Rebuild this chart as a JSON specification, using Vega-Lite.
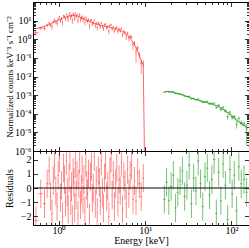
{
"$schema":"https://vega.github.io/schema/vega-lite/v6.json",
"padding":{"left":3,"top":1,"right":2,"bottom":0},
"spacing":0,
"bounds":"flush",
"config":{"view":{"stroke":"#000","strokeWidth":1},"axis":{"domain":false,"grid":false,"labelFont":"Liberation Serif","titleFont":"Liberation Serif","labelFontSize":10,"titleFontSize":10,"titleFontWeight":"normal","tickColor":"#000","labelColor":"#000","titleColor":"#000","tickWidth":0.8,"labelFlush":false,"labelOverlap":false,"labelBound":false}},
"datasets":{
"xrt":[
{"e":0.54,"ex":0.04,"m":3.6,"r":-2.3,"f":2.28,"fs":0.58},
{"e":0.615,"ex":0.035,"m":4.3,"r":-0.4,"f":3.96,"fs":0.86},
{"e":0.68,"ex":0.03,"m":5.0,"r":-1.1,"f":3.9,"fs":1.0},
{"e":0.73,"ex":0.02,"m":5.5,"r":0.3,"f":5.83,"fs":1.1},
{"e":0.77,"ex":0.02,"m":6.0,"r":1.2,"f":7.44,"fs":1.2},
{"e":0.80,"ex":0.015,"m":6.6,"r":-0.6,"f":5.81,"fs":1.32},
{"e":0.83,"ex":0.015,"m":7.3,"r":-1.8,"f":4.67,"fs":1.46},
{"e":0.86,"ex":0.015,"m":7.9,"r":0.5,"f":8.69,"fs":1.58},
{"e":0.89,"ex":0.015,"m":8.5,"r":1.6,"f":11.2,"fs":1.7},
{"e":0.92,"ex":0.015,"m":9.1,"r":-0.2,"f":8.74,"fs":1.82},
{"e":0.95,"ex":0.015,"m":9.7,"r":-1.3,"f":7.18,"fs":1.94},
{"e":0.98,"ex":0.015,"m":10.4,"r":0.9,"f":12.3,"fs":2.08},
{"e":1.01,"ex":0.015,"m":11.1,"r":2.1,"f":15.8,"fs":2.22},
{"e":1.04,"ex":0.015,"m":11.8,"r":-0.7,"f":10.1,"fs":2.36},
{"e":1.07,"ex":0.015,"m":12.5,"r":0.2,"f":13.0,"fs":2.5},
{"e":1.10,"ex":0.015,"m":13.2,"r":-2.0,"f":7.92,"fs":2.64},
{"e":1.13,"ex":0.015,"m":13.9,"r":1.4,"f":17.8,"fs":2.78},
{"e":1.16,"ex":0.015,"m":14.6,"r":0.6,"f":16.4,"fs":2.92},
{"e":1.19,"ex":0.015,"m":15.2,"r":-1.0,"f":12.2,"fs":3.04},
{"e":1.22,"ex":0.015,"m":15.8,"r":1.9,"f":21.8,"fs":3.16},
{"e":1.25,"ex":0.015,"m":16.4,"r":-0.3,"f":15.4,"fs":3.28},
{"e":1.28,"ex":0.015,"m":16.9,"r":-1.5,"f":11.8,"fs":3.38},
{"e":1.31,"ex":0.015,"m":17.4,"r":0.7,"f":19.8,"fs":3.48},
{"e":1.34,"ex":0.015,"m":17.8,"r":2.3,"f":26.0,"fs":3.56},
{"e":1.37,"ex":0.015,"m":18.1,"r":-0.9,"f":14.8,"fs":3.62},
{"e":1.40,"ex":0.015,"m":18.4,"r":0.1,"f":18.8,"fs":3.68},
{"e":1.43,"ex":0.015,"m":18.6,"r":-2.2,"f":10.4,"fs":3.72},
{"e":1.46,"ex":0.015,"m":18.7,"r":1.1,"f":22.8,"fs":3.74},
{"e":1.49,"ex":0.015,"m":18.7,"r":0.4,"f":20.2,"fs":3.74},
{"e":1.52,"ex":0.015,"m":18.6,"r":-1.4,"f":13.4,"fs":3.72},
{"e":1.55,"ex":0.015,"m":18.4,"r":1.7,"f":24.7,"fs":3.68},
{"e":1.58,"ex":0.015,"m":18.1,"r":-0.5,"f":16.3,"fs":3.62},
{"e":1.62,"ex":0.02,"m":17.6,"r":0.9,"f":20.8,"fs":3.52},
{"e":1.66,"ex":0.02,"m":17.0,"r":-1.9,"f":10.5,"fs":3.4},
{"e":1.70,"ex":0.02,"m":16.3,"r":0.3,"f":17.3,"fs":3.26},
{"e":1.74,"ex":0.02,"m":15.6,"r":2.0,"f":21.8,"fs":3.12},
{"e":1.78,"ex":0.02,"m":14.9,"r":-1.2,"f":11.3,"fs":2.98},
{"e":1.82,"ex":0.02,"m":14.2,"r":-0.1,"f":13.9,"fs":2.84},
{"e":1.86,"ex":0.02,"m":13.5,"r":1.3,"f":17.0,"fs":2.7},
{"e":1.90,"ex":0.02,"m":12.9,"r":-0.8,"f":10.8,"fs":2.58},
{"e":1.95,"ex":0.025,"m":12.2,"r":0.6,"f":13.7,"fs":2.44},
{"e":2.00,"ex":0.025,"m":11.5,"r":-1.6,"f":7.82,"fs":2.3},
{"e":2.05,"ex":0.025,"m":10.9,"r":1.8,"f":14.8,"fs":2.18},
{"e":2.10,"ex":0.025,"m":10.4,"r":0.2,"f":10.8,"fs":2.08},
{"e":2.15,"ex":0.025,"m":9.9,"r":-0.4,"f":9.11,"fs":1.98},
{"e":2.20,"ex":0.025,"m":9.5,"r":1.0,"f":11.4,"fs":1.9},
{"e":2.26,"ex":0.03,"m":9.0,"r":-2.1,"f":5.22,"fs":1.8},
{"e":2.32,"ex":0.03,"m":8.6,"r":0.8,"f":9.98,"fs":1.72},
{"e":2.38,"ex":0.03,"m":8.2,"r":1.5,"f":10.7,"fs":1.64},
{"e":2.44,"ex":0.03,"m":7.9,"r":-0.7,"f":6.79,"fs":1.58},
{"e":2.50,"ex":0.03,"m":7.6,"r":0.0,"f":7.6,"fs":1.52},
{"e":2.57,"ex":0.035,"m":7.2,"r":2.2,"f":10.4,"fs":1.44},
{"e":2.64,"ex":0.035,"m":6.9,"r":-1.1,"f":5.38,"fs":1.38},
{"e":2.71,"ex":0.035,"m":6.6,"r":0.5,"f":7.26,"fs":1.32},
{"e":2.78,"ex":0.035,"m":6.4,"r":-1.7,"f":4.22,"fs":1.28},
{"e":2.86,"ex":0.04,"m":6.1,"r":1.2,"f":7.56,"fs":1.22},
{"e":2.94,"ex":0.04,"m":5.9,"r":0.4,"f":6.37,"fs":1.18},
{"e":3.02,"ex":0.04,"m":5.7,"r":-0.9,"f":4.67,"fs":1.14},
{"e":3.10,"ex":0.04,"m":5.55,"r":1.9,"f":7.66,"fs":1.11},
{"e":3.19,"ex":0.045,"m":5.4,"r":-0.3,"f":5.08,"fs":1.08},
{"e":3.28,"ex":0.045,"m":5.25,"r":-1.4,"f":3.78,"fs":1.05},
{"e":3.37,"ex":0.045,"m":5.1,"r":0.7,"f":5.81,"fs":1.02},
{"e":3.47,"ex":0.05,"m":4.95,"r":1.6,"f":6.53,"fs":0.99},
{"e":3.57,"ex":0.05,"m":4.8,"r":-0.6,"f":4.22,"fs":0.96},
{"e":3.68,"ex":0.05,"m":4.65,"r":0.1,"f":4.74,"fs":0.93},
{"e":3.79,"ex":0.06,"m":4.5,"r":-2.0,"f":2.7,"fs":0.9},
{"e":3.90,"ex":0.06,"m":4.35,"r":1.1,"f":5.31,"fs":0.87},
{"e":4.02,"ex":0.06,"m":4.2,"r":2.1,"f":5.96,"fs":0.84},
{"e":4.14,"ex":0.06,"m":4.05,"r":-0.5,"f":3.65,"fs":0.81},
{"e":4.27,"ex":0.07,"m":3.9,"r":0.9,"f":4.6,"fs":0.78},
{"e":4.40,"ex":0.07,"m":3.75,"r":-1.3,"f":2.78,"fs":0.75},
{"e":4.54,"ex":0.07,"m":3.6,"r":0.3,"f":3.82,"fs":0.72},
{"e":4.68,"ex":0.07,"m":3.45,"r":1.4,"f":4.42,"fs":0.69},
{"e":4.83,"ex":0.08,"m":3.3,"r":-1.0,"f":2.64,"fs":0.66},
{"e":4.98,"ex":0.08,"m":3.15,"r":0.6,"f":3.53,"fs":0.63},
{"e":5.14,"ex":0.08,"m":2.95,"r":-0.2,"f":2.83,"fs":0.59},
{"e":5.30,"ex":0.09,"m":2.75,"r":1.8,"f":3.74,"fs":0.55},
{"e":5.47,"ex":0.09,"m":2.55,"r":-1.5,"f":1.79,"fs":0.51},
{"e":5.65,"ex":0.09,"m":2.35,"r":0.8,"f":2.73,"fs":0.47},
{"e":5.84,"ex":0.1,"m":2.1,"r":0.2,"f":2.21,"fs":0.525},
{"e":6.04,"ex":0.1,"m":1.85,"r":-1.1,"f":1.34,"fs":0.46},
{"e":6.25,"ex":0.1,"m":1.6,"r":1.3,"f":2.12,"fs":0.4},
{"e":6.47,"ex":0.12,"m":1.35,"r":-0.4,"f":1.19,"fs":0.405},
{"e":6.70,"ex":0.12,"m":1.12,"r":0.9,"f":1.42,"fs":0.336},
{"e":6.95,"ex":0.12,"m":0.9,"r":1.6,"f":1.33,"fs":0.27},
{"e":7.22,"ex":0.14,"m":0.7,"r":-0.8,"f":0.504,"fs":0.245},
{"e":7.51,"ex":0.14,"m":0.52,"r":0.5,"f":0.611,"fs":0.182},
{"e":7.83,"ex":0.17,"m":0.36,"r":-0.9,"f":0.214,"fs":0.162},
{"e":8.18,"ex":0.17,"m":0.23,"r":1.1,"f":0.344,"fs":0.1035},
{"e":8.56,"ex":0.19,"m":0.13,"r":0.3,"f":0.148,"fs":0.0585},
{"e":9.00,"ex":0.22,"m":0.07,"r":-0.6,"f":0.049,"fs":0.035},
{"e":9.50,"ex":0.25,"m":0.04,"r":0.7,"f":0.054,"fs":0.02},
{"e":9.8,"m":1e-10}
],
"bat":[
{"e":16.7,"ex":0.5,"m":1.5e-3,"r":-0.8,"f":1.428e-3,"fs":9.0e-5},
{"e":17.7,"ex":0.53,"m":1.55e-3,"r":0.4,"f":1.587e-3,"fs":9.3e-5},
{"e":18.8,"ex":0.56,"m":1.55e-3,"r":-0.9,"f":1.466e-3,"fs":9.3e-5},
{"e":20.0,"ex":0.6,"m":1.5e-3,"r":0.1,"f":1.509e-3,"fs":9.0e-5},
{"e":21.2,"ex":0.64,"m":1.42e-3,"r":0.9,"f":1.497e-3,"fs":8.5e-5},
{"e":22.5,"ex":0.68,"m":1.32e-3,"r":-1.4,"f":1.209e-3,"fs":7.9e-5},
{"e":23.9,"ex":0.72,"m":1.22e-3,"r":-0.3,"f":1.198e-3,"fs":7.3e-5},
{"e":25.4,"ex":0.76,"m":1.12e-3,"r":0.5,"f":1.154e-3,"fs":6.7e-5},
{"e":27.0,"ex":0.81,"m":1.02e-3,"r":1.2,"f":1.093e-3,"fs":6.1e-5},
{"e":28.7,"ex":0.86,"m":9.3e-4,"r":-0.6,"f":8.97e-4,"fs":5.6e-5},
{"e":30.5,"ex":0.92,"m":8.4e-4,"r":0.2,"f":8.53e-4,"fs":6.7e-5},
{"e":32.4,"ex":0.97,"m":7.6e-4,"r":1.6,"f":8.57e-4,"fs":6.1e-5},
{"e":34.4,"ex":1.03,"m":6.9e-4,"r":-1.1,"f":6.29e-4,"fs":5.5e-5},
{"e":36.5,"ex":1.1,"m":6.3e-4,"r":0.7,"f":6.65e-4,"fs":5.0e-5},
{"e":38.8,"ex":1.16,"m":5.8e-4,"r":-0.2,"f":5.71e-4,"fs":4.6e-5},
{"e":41.2,"ex":1.24,"m":5.3e-4,"r":1.9,"f":6.11e-4,"fs":4.2e-5},
{"e":43.8,"ex":1.31,"m":4.9e-4,"r":0.3,"f":5.02e-4,"fs":3.9e-5},
{"e":46.5,"ex":1.4,"m":4.5e-4,"r":-1.3,"f":4.03e-4,"fs":3.6e-5},
{"e":49.4,"ex":1.48,"m":4.2e-4,"r":0.8,"f":4.47e-4,"fs":3.4e-5},
{"e":52.5,"ex":1.58,"m":3.9e-4,"r":1.4,"f":4.56e-4,"fs":4.7e-5},
{"e":55.8,"ex":1.67,"m":3.6e-4,"r":-0.5,"f":3.38e-4,"fs":4.3e-5},
{"e":59.3,"ex":1.78,"m":3.3e-4,"r":0.6,"f":3.54e-4,"fs":4.0e-5},
{"e":63.0,"ex":1.89,"m":3.0e-4,"r":2.0,"f":3.72e-4,"fs":3.6e-5},
{"e":66.9,"ex":2.0,"m":2.7e-4,"r":-1.8,"f":2.12e-4,"fs":3.2e-5},
{"e":71.1,"ex":2.13,"m":2.4e-4,"r":1.1,"f":2.88e-4,"fs":4.3e-5},
{"e":75.5,"ex":2.27,"m":2.05e-4,"r":-0.9,"f":1.72e-4,"fs":3.7e-5},
{"e":80.2,"ex":2.4,"m":1.7e-4,"r":1.7,"f":2.22e-4,"fs":3.1e-5},
{"e":85.2,"ex":2.56,"m":1.4e-4,"r":0.2,"f":1.45e-4,"fs":2.5e-5},
{"e":90.5,"ex":2.7,"m":1.15e-4,"r":-2.2,"f":6.95e-5,"fs":2.1e-5},
{"e":96.2,"ex":2.9,"m":9.2e-5,"r":1.3,"f":1.22e-4,"fs":2.3e-5},
{"e":102,"ex":3.1,"m":7.2e-5,"r":-0.4,"f":6.48e-5,"fs":1.8e-5},
{"e":108,"ex":3.2,"m":5.8e-5,"r":0.9,"f":7.11e-5,"fs":1.45e-5},
{"e":115,"ex":3.5,"m":4.6e-5,"r":-1.6,"f":2.76e-5,"fs":1.15e-5},
{"e":122,"ex":3.7,"m":3.7e-5,"r":1.5,"f":5.64e-5,"fs":1.3e-5},
{"e":130,"ex":3.9,"m":3.0e-5,"r":0.3,"f":3.32e-5,"fs":1.05e-5},
{"e":140,"ex":4.2,"m":2.4e-5,"r":0.6,"f":2.9e-5,"fs":8.4e-6},
{"e":150,"ex":4.5,"m":1.9e-5,"r":-0.3,"f":1.5e-5,"fs":1.3e-5}
]
},
"vconcat":[
{
"width":216,"height":149,
"resolve":{"axis":{"x":"independent","y":"independent"}},
"layer":[
{"data":{"name":"xrt"},"transform":[{"filter":"isValid(datum.f)"}],
 "mark":{"type":"errorbar","color":"#ff0000","opacity":0.45,"thickness":1},
 "encoding":{
  "x":{"field":"e","type":"quantitative","scale":{"type":"log","domain":[0.5,160],"nice":false,"clamp":true},"axis":{"orient":"bottom","values":[1,10,100],"labels":false,"title":null,"tickSize":-4.5}},
  "y":{"field":"f","type":"quantitative","scale":{"type":"log","domain":[1e-6,100],"nice":false,"clamp":true},"axis":{"orient":"left","values":[1e-6,1e-5,1e-4,1e-3,0.01,0.1,1,10],"tickSize":-4.5,"labelPadding":6.5,"labelExpr":"'10' + ['⁻⁶','⁻⁵','⁻⁴','⁻³','⁻²','⁻¹','⁰','¹'][round(log(datum.value)/LN10) + 6]","title":"Normalized counts keV⁻¹ s⁻¹ cm⁻²","titleFontSize":9,"titleX":-19}},
  "yError":{"field":"fs"}}},
{"data":{"name":"xrt"},"transform":[{"filter":"isValid(datum.f)"}],
 "mark":{"type":"errorbar","color":"#ff0000","opacity":0.45,"thickness":1},
 "encoding":{
  "x":{"field":"e","type":"quantitative","scale":{"type":"log","domain":[0.5,160],"nice":false,"clamp":true},"axis":{"orient":"bottom","values":[0.5,0.6,0.7,0.8,0.9,2,3,4,5,6,7,8,9,20,30,40,50,60,70,80,90],"labels":false,"title":null,"tickSize":-2.5}},
  "xError":{"field":"ex"},
  "y":{"field":"f","type":"quantitative","scale":{"type":"log","domain":[1e-6,100],"nice":false,"clamp":true},"axis":{"orient":"left","values":[2e-6,3e-6,4e-6,5e-6,6e-6,7e-6,8e-6,9e-6,2e-5,3e-5,4e-5,5e-5,6e-5,7e-5,8e-5,9e-5,2e-4,3e-4,4e-4,5e-4,6e-4,7e-4,8e-4,9e-4,2e-3,3e-3,4e-3,5e-3,6e-3,7e-3,8e-3,9e-3,0.02,0.03,0.04,0.05,0.06,0.07,0.08,0.09,0.2,0.3,0.4,0.5,0.6,0.7,0.8,0.9,2,3,4,5,6,7,8,9,20,30,40,50,60,70,80,90],"labels":false,"title":null,"tickSize":-2.5}}}},
{"data":{"name":"bat"},
 "mark":{"type":"errorbar","color":"#1a9a1a","opacity":0.6,"thickness":1},
 "encoding":{
  "x":{"field":"e","type":"quantitative","scale":{"type":"log","domain":[0.5,160],"nice":false,"clamp":true},"axis":{"orient":"top","values":[1,10,100],"labels":false,"title":null,"tickSize":-4.5}},
  "y":{"field":"f","type":"quantitative","scale":{"type":"log","domain":[1e-6,100],"nice":false,"clamp":true},"axis":{"orient":"right","values":[1e-6,1e-5,1e-4,1e-3,0.01,0.1,1,10],"labels":false,"title":null,"tickSize":-4.5}},
  "yError":{"field":"fs"}}},
{"data":{"name":"bat"},
 "mark":{"type":"errorbar","color":"#1a9a1a","opacity":0.6,"thickness":1},
 "encoding":{
  "x":{"field":"e","type":"quantitative","scale":{"type":"log","domain":[0.5,160],"nice":false,"clamp":true},"axis":{"orient":"top","values":[0.5,0.6,0.7,0.8,0.9,2,3,4,5,6,7,8,9,20,30,40,50,60,70,80,90],"labels":false,"title":null,"tickSize":-2.5}},
  "xError":{"field":"ex"},
  "y":{"field":"f","type":"quantitative","scale":{"type":"log","domain":[1e-6,100],"nice":false,"clamp":true},"axis":{"orient":"right","values":[2e-6,3e-6,4e-6,5e-6,6e-6,7e-6,8e-6,9e-6,2e-5,3e-5,4e-5,5e-5,6e-5,7e-5,8e-5,9e-5,2e-4,3e-4,4e-4,5e-4,6e-4,7e-4,8e-4,9e-4,2e-3,3e-3,4e-3,5e-3,6e-3,7e-3,8e-3,9e-3,0.02,0.03,0.04,0.05,0.06,0.07,0.08,0.09,0.2,0.3,0.4,0.5,0.6,0.7,0.8,0.9,2,3,4,5,6,7,8,9,20,30,40,50,60,70,80,90],"labels":false,"title":null,"tickSize":-2.5}}}},
{"data":{"name":"xrt"},
 "mark":{"type":"line","color":"#ff0000","opacity":0.6,"strokeWidth":1},
 "encoding":{
  "x":{"field":"e","type":"quantitative","scale":{"type":"log","domain":[0.5,160],"nice":false,"clamp":true},"axis":null},
  "y":{"field":"m","type":"quantitative","scale":{"type":"log","domain":[1e-6,100],"nice":false,"clamp":true},"axis":null}}},
{"data":{"name":"bat"},
 "mark":{"type":"line","color":"#1a9a1a","opacity":0.8,"strokeWidth":1,"interpolate":"step"},
 "encoding":{
  "x":{"field":"e","type":"quantitative","scale":{"type":"log","domain":[0.5,160],"nice":false,"clamp":true},"axis":null},
  "y":{"field":"m","type":"quantitative","scale":{"type":"log","domain":[1e-6,100],"nice":false,"clamp":true},"axis":null}}}
]
},
{
"width":216,"height":74,
"resolve":{"axis":{"x":"independent","y":"independent"}},
"layer":[
{"data":{"name":"xrt"},"transform":[{"filter":"isValid(datum.f)"}],
 "mark":{"type":"tick","orient":"vertical","size":28.46,"thickness":1,"color":"#ff0000","opacity":0.45,"clip":true},
 "encoding":{
  "x":{"field":"e","type":"quantitative","scale":{"type":"log","domain":[0.5,160],"nice":false,"clamp":true},"axis":{"orient":"bottom","values":[1,10,100],"tickSize":-4.5,"labelPadding":5,"labelExpr":"datum.value == 1 ? '10⁰' : datum.value == 10 ? '10¹' : '10²'","title":"Energy [keV]","titlePadding":0}},
  "y":{"field":"r","type":"quantitative","scale":{"domain":[-2.6,2.6],"nice":false,"zero":false,"clamp":true},"axis":{"orient":"left","values":[-2,-1,0,1,2],"tickSize":-4.5,"labelPadding":6.5,"format":"d","title":"Residuals","titleX":-19}}}},
{"data":{"name":"xrt"},"transform":[{"filter":"isValid(datum.f)"}],
 "mark":{"type":"errorbar","color":"#ff0000","opacity":0.45,"thickness":1},
 "encoding":{
  "x":{"field":"e","type":"quantitative","scale":{"type":"log","domain":[0.5,160],"nice":false,"clamp":true},"axis":{"orient":"bottom","values":[0.5,0.6,0.7,0.8,0.9,2,3,4,5,6,7,8,9,20,30,40,50,60,70,80,90],"labels":false,"title":null,"tickSize":-2.5}},
  "xError":{"field":"ex"},
  "y":{"field":"r","type":"quantitative","scale":{"domain":[-2.6,2.6],"nice":false,"zero":false,"clamp":true},"axis":{"orient":"right","values":[-2,-1,0,1,2],"labels":false,"title":null,"tickSize":-4.5}}}},
{"data":{"name":"bat"},
 "mark":{"type":"tick","orient":"vertical","size":28.46,"thickness":1,"color":"#1a9a1a","opacity":0.6,"clip":true},
 "encoding":{
  "x":{"field":"e","type":"quantitative","scale":{"type":"log","domain":[0.5,160],"nice":false,"clamp":true},"axis":{"orient":"top","values":[1,10,100],"labels":false,"title":null,"tickSize":-4.5}},
  "y":{"field":"r","type":"quantitative","scale":{"domain":[-2.6,2.6],"nice":false,"zero":false,"clamp":true},"axis":null}}},
{"data":{"name":"bat"},
 "mark":{"type":"errorbar","color":"#1a9a1a","opacity":0.6,"thickness":1},
 "encoding":{
  "x":{"field":"e","type":"quantitative","scale":{"type":"log","domain":[0.5,160],"nice":false,"clamp":true},"axis":{"orient":"top","values":[0.5,0.6,0.7,0.8,0.9,2,3,4,5,6,7,8,9,20,30,40,50,60,70,80,90],"labels":false,"title":null,"tickSize":-2.5}},
  "xError":{"field":"ex"},
  "y":{"field":"r","type":"quantitative","scale":{"domain":[-2.6,2.6],"nice":false,"zero":false,"clamp":true},"axis":null}}},
{"data":{"values":[{"z":0}]},
 "mark":{"type":"rule","color":"#000","strokeWidth":1},
 "encoding":{"y":{"field":"z","type":"quantitative","scale":{"domain":[-2.6,2.6],"nice":false,"zero":false,"clamp":true},"axis":null}}}
]
}
]
}
